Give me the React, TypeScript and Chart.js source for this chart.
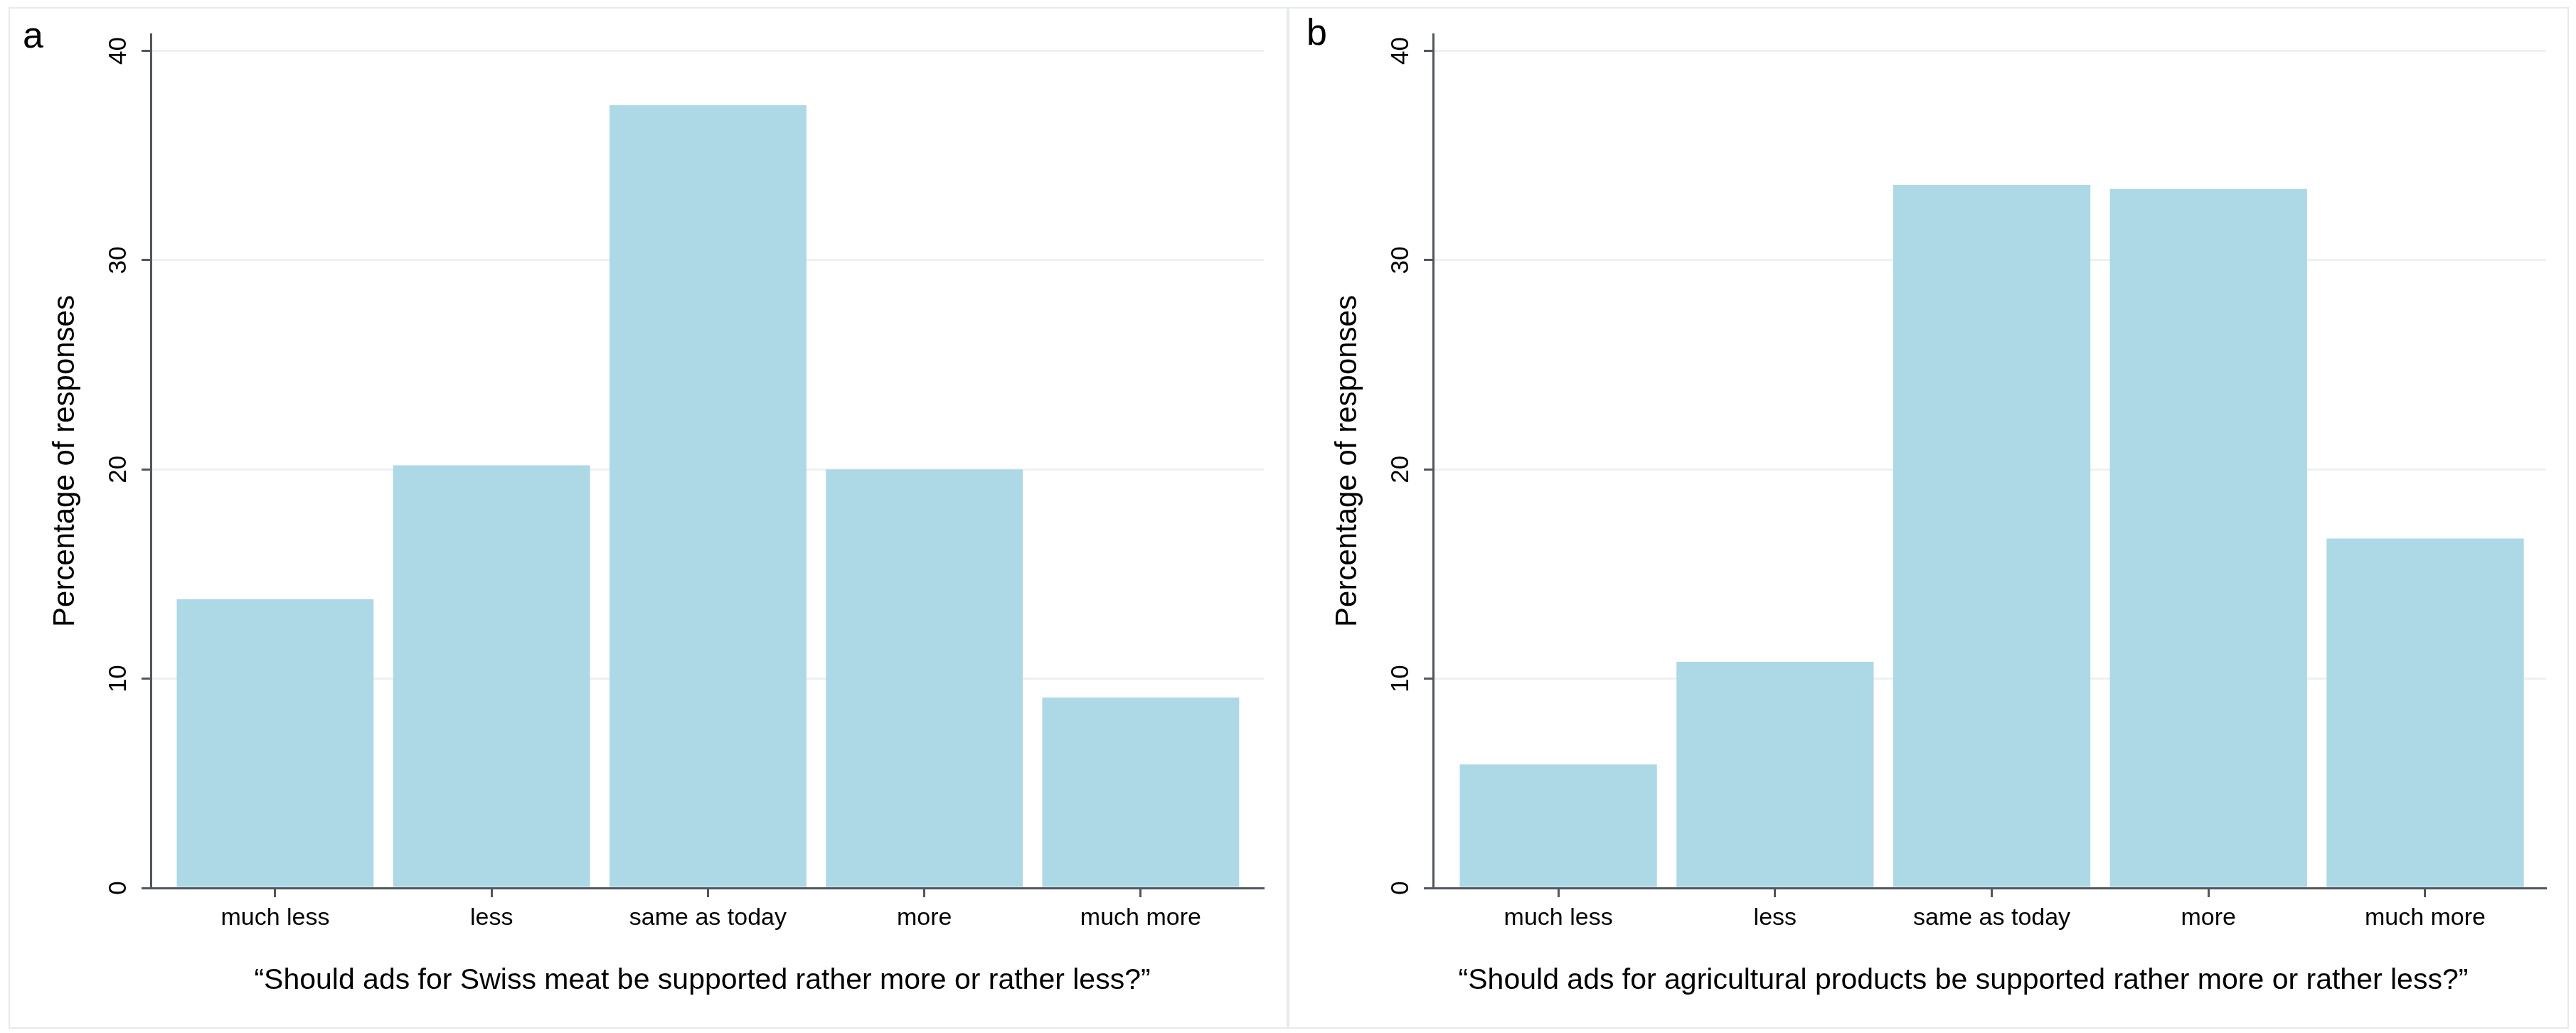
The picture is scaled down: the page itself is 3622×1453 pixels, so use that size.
import React, { useEffect, useRef } from "react";
import { Chart, registerables } from "chart.js";

Chart.register(...registerables);

const categories = ["much less", "less", "same as today", "more", "much more"];
const swissMeatValues = [13.8, 20.2, 37.4, 20.0, 9.1];
const agriculturalValues = [5.9, 10.8, 33.6, 33.4, 16.7];
const yTickValues = [0, 10, 20, 30, 40];
const yAxisTitle = "Percentage of responses";
const titleA = "\u201CShould ads for Swiss meat be supported rather more or rather less?\u201D";
const titleB = "\u201CShould ads for agricultural products be supported rather more or rather less?\u201D";

const FONT = "'Liberation Sans', Arial, Helvetica, sans-serif";
const BAR_COLOR = "#add8e6";
const AXIS_COLOR = "#51575c";
const GRID_COLOR = "#edf1f3";
const PANEL_BORDER = "#e6eaed";

type PanelProps = {
  values: number[];
  xTitle: string;
  titleShift: number;
  letter: string;
  left: number;
  width: number;
  yWidth: number;
  padRight: number;
  xMin: number;
  xMax: number;
  letterLeft: number;
  letterTop: number;
};

const PANEL_TOP = 10;
const PANEL_HEIGHT = 1437;
const X_TITLE_BASELINE = 1381;

function Panel(p: PanelProps) {
  const ref = useRef<HTMLCanvasElement | null>(null);
  useEffect(() => {
    if (!ref.current) return;
    const xTitlePlugin = {
      id: "xTitleShifted",
      afterDraw(chart: any) {
        const { ctx, chartArea } = chart;
        ctx.save();
        ctx.font = `41px ${FONT}`;
        ctx.fillStyle = "#000";
        ctx.textAlign = "center";
        ctx.textBaseline = "alphabetic";
        ctx.fillText(
          p.xTitle,
          (chartArea.left + chartArea.right) / 2 + p.titleShift,
          X_TITLE_BASELINE
        );
        ctx.restore();
      },
    };
    const chart = new Chart(ref.current, {
      type: "bar",
      data: {
        datasets: [
          {
            data: p.values.map((v, i) => ({ x: i, y: v })),
            backgroundColor: BAR_COLOR,
            borderWidth: 0,
            barPercentage: 0.91,
            categoryPercentage: 1,
          },
        ],
      },
      options: {
        animation: false,
        responsive: false,
        devicePixelRatio: 1,
        layout: { padding: { top: 38, right: p.padRight, bottom: 0, left: 0 } },
        plugins: { legend: { display: false }, tooltip: { enabled: false } },
        scales: {
          x: {
            type: "linear",
            min: p.xMin,
            max: p.xMax,
            offset: false,
            afterBuildTicks: (s: any) => {
              s.ticks = categories.map((_, i) => ({ value: i }));
            },
            afterFit: (s: any) => {
              s.height = 198;
            },
            grid: {
              offset: false,
              drawOnChartArea: false,
              drawTicks: true,
              tickLength: 13,
              tickColor: AXIS_COLOR,
              tickWidth: 3,
            },
            border: { display: true, color: AXIS_COLOR, width: 3 },
            ticks: {
              callback: (v: any) => categories[v as number] ?? "",
              font: { family: FONT, size: 34 },
              color: "#000",
              padding: 9,
              minRotation: 0,
              maxRotation: 0,
              autoSkip: false,
            },
            title: { display: false },
          },
          y: {
            min: 0,
            max: 40.8,
            afterBuildTicks: (s: any) => {
              s.ticks = yTickValues.map((v) => ({ value: v }));
            },
            afterFit: (s: any) => {
              s.width = p.yWidth;
            },
            grid: {
              offset: false,
              color: GRID_COLOR,
              lineWidth: 3,
              tickColor: AXIS_COLOR,
              tickLength: 13,
              tickWidth: 3,
            },
            border: { display: true, color: AXIS_COLOR, width: 3 },
            ticks: {
              minRotation: 90,
              maxRotation: 90,
              crossAlign: "center",
              padding: 12,
              font: { family: FONT, size: 35 },
              color: "#000",
            },
            title: {
              display: true,
              text: yAxisTitle,
              font: { family: FONT, size: 42 },
              color: "#000",
              padding: { top: p.yWidth - 145, bottom: 0 },
            },
          },
        },
      },
      plugins: [xTitlePlugin],
    } as any);
    return () => chart.destroy();
  }, []);

  return (
    <>
      <canvas
        ref={ref}
        width={p.width}
        height={PANEL_HEIGHT}
        style={{
          position: "absolute",
          left: p.left,
          top: PANEL_TOP,
          width: p.width,
          height: PANEL_HEIGHT,
        }}
      />
      <div
        style={{
          position: "absolute",
          left: p.left,
          top: PANEL_TOP,
          width: p.width,
          height: PANEL_HEIGHT,
          border: `2px solid ${PANEL_BORDER}`,
          boxSizing: "border-box",
          pointerEvents: "none",
        }}
      />
      <span
        style={{
          position: "absolute",
          left: p.left + p.letterLeft,
          top: p.letterTop,
          fontFamily: FONT,
          fontSize: 52,
          lineHeight: 1,
          color: "#000",
        }}
      >
        {p.letter}
      </span>
    </>
  );
}

export default function App() {
  return (
    <div
      style={{
        position: "absolute",
        left: 0,
        top: 0,
        width: 3622,
        height: 1453,
        background: "#fff",
        overflow: "hidden",
      }}
    >
      <Panel
        values={swissMeatValues}
        xTitle={titleA}
        titleShift={-7}
        letter="a"
        left={12}
        width={1799}
        yWidth={200}
        padRight={34}
        xMin={-0.575}
        xMax={4.569}
        letterLeft={20}
        letterTop={23}
      />
      <Panel
        values={agriculturalValues}
        xTitle={titleB}
        titleShift={-37}
        letter="b"
        left={1811}
        width={1801}
        yWidth={204}
        padRight={32}
        xMin={-0.578}
        xMax={4.558}
        letterLeft={26}
        letterTop={19}
      />
    </div>
  );
}
